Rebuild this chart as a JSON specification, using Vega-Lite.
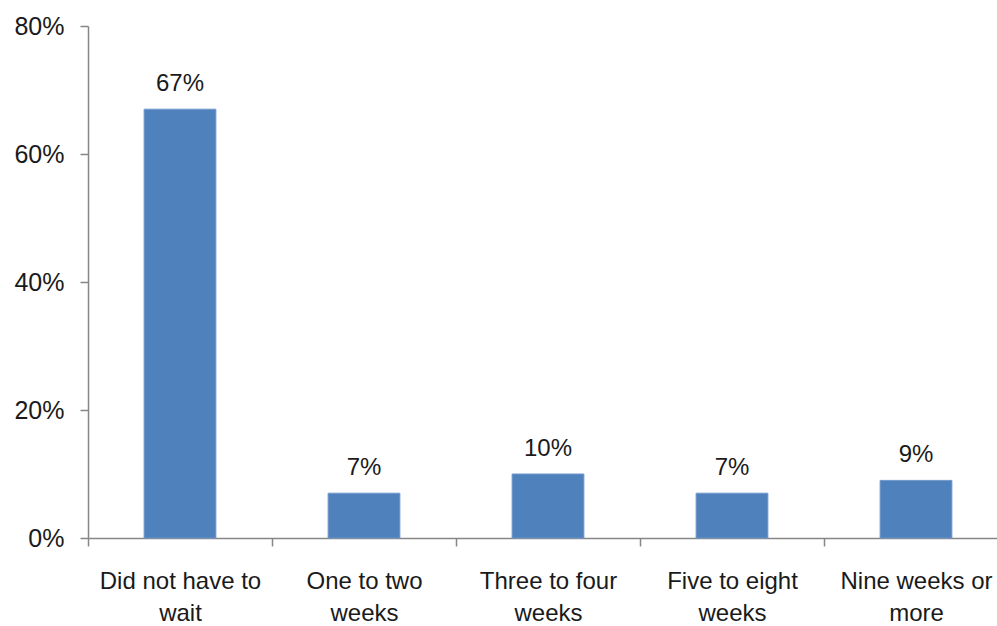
{
  "$schema": "https://vega.github.io/schema/vega-lite/v6.json",
  "autosize": {"type": "none"},
  "width": 909,
  "height": 512,
  "padding": {"left": 88, "top": 26, "right": 0, "bottom": 88},
  "background": "white",
  "config": {
    "view": {"stroke": null},
    "font": "Liberation Sans",
    "axis": {"grid": false, "domainColor": "#868686", "tickColor": "#868686", "domainWidth": 1.5, "tickWidth": 1.5, "labelColor": "#1a1a1a", "labelFont": "Liberation Sans", "labelFontSize": 24}
  },
  "data": {
    "values": [
      {"category": "Did not have to|wait", "value": 0.67, "order": 1},
      {"category": "One to two|weeks", "value": 0.07, "order": 2},
      {"category": "Three to four|weeks", "value": 0.10, "order": 3},
      {"category": "Five to eight|weeks", "value": 0.07, "order": 4},
      {"category": "Nine weeks or|more", "value": 0.09, "order": 5}
    ]
  },
  "encoding": {
    "x": {
      "field": "category",
      "type": "nominal",
      "sort": {"field": "order"},
      "scale": {"paddingInner": 0, "paddingOuter": 0, "range": [0, 920]},
      "axis": {"title": null, "labelAngle": 0, "tickBand": "extent", "tickSize": 8, "labelPadding": 23, "labelLineHeight": 32, "labelExpr": "split(datum.label, '|')"}
    },
    "y": {
      "field": "value",
      "type": "quantitative",
      "scale": {"domain": [0, 0.8], "nice": false},
      "axis": {"title": null, "values": [0, 0.2, 0.4, 0.6, 0.8], "format": ".0%", "tickSize": 8, "labelPadding": 16, "labelFontSize": 25}
    }
  },
  "layer": [
    {"mark": {"type": "bar", "color": "#4F81BD", "width": {"band": 0.39}, "stroke": "#6f97c9", "strokeWidth": 1}},
    {"mark": {"type": "text", "baseline": "alphabetic", "dy": -18, "fontSize": 24, "color": "#1a1a1a", "font": "Liberation Sans"},
     "encoding": {"text": {"field": "value", "type": "quantitative", "format": ".0%"}}}
  ]
}
